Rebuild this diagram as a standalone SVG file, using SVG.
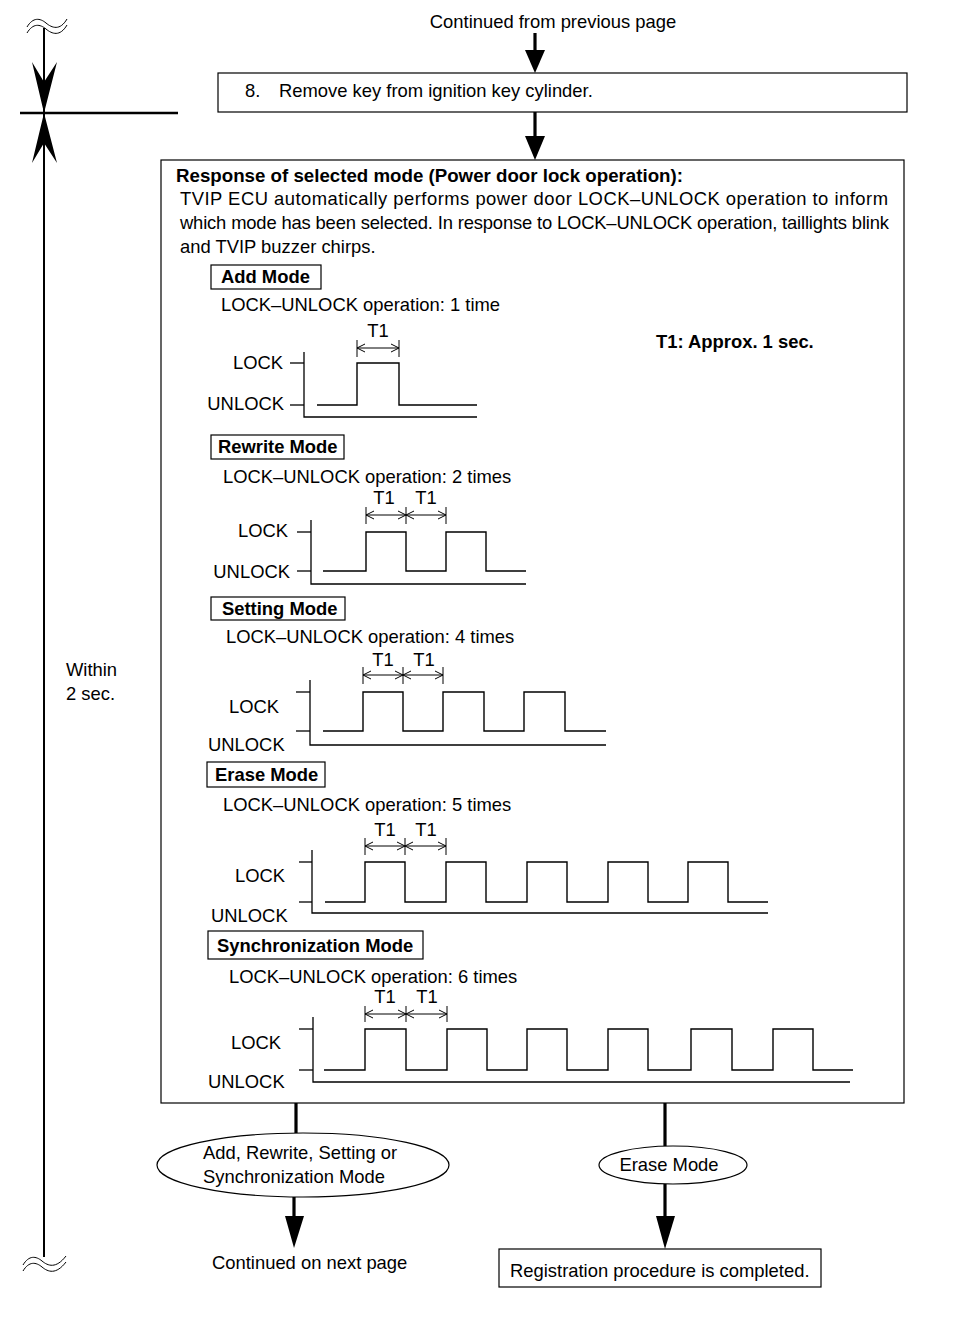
<svg xmlns="http://www.w3.org/2000/svg" width="960" height="1322" viewBox="0 0 960 1322">
<style>
text{font-family:"Liberation Sans",Arial,sans-serif;font-size:18.4px;fill:#000}
.b{font-weight:bold}
.box{fill:#fff;stroke:#000;stroke-width:1.2}
.ln{stroke:#000;stroke-width:1.3;fill:none}
.thin{stroke:#000;stroke-width:1;fill:none}
.thick{stroke:#000;stroke-width:3.2;fill:none}
.sig{stroke:#000;stroke-width:1.4;fill:none}
.dim{stroke:#000;stroke-width:1;fill:none;marker-start:url(#da);marker-end:url(#da)}
.r{text-anchor:end}
.m{text-anchor:middle}
</style>
<defs>
<marker id="da" markerUnits="userSpaceOnUse" markerWidth="12" markerHeight="12" viewBox="-10 -6 12 12" refX="0" refY="0" orient="auto-start-reverse">
<path d="M-8,-4 L0,0 L-8,4" fill="none" stroke="#000" stroke-width="1"/>
</marker>
</defs>
<rect width="960" height="1322" fill="#fff"/>

<g id="timeline">
<path class="thin" d="M27,27 C33,17 40,18 46,23 S60,31 67,19"/>
<path class="thin" d="M27,33 C33,23 40,24 46,29 S60,37 67,25"/>
<line x1="44" y1="28" x2="44" y2="1257" stroke="#000" stroke-width="2"/>
<line x1="20" y1="113" x2="178" y2="113" stroke="#000" stroke-width="2.5"/>
<polygon points="32,62 44,82 57,62 44,113" fill="#000"/>
<polygon points="32,163 44,143 57,163 44,113" fill="#000"/>
<path class="thin" d="M23,1265 C29,1255 36,1256 42,1261 S56,1269 66,1256"/>
<path class="thin" d="M23,1271 C29,1261 36,1262 42,1267 S56,1275 66,1262"/>
<text x="66" y="676">Within</text>
<text x="66" y="700">2 sec.</text>
</g>

<g id="continued-from">
<text x="553" y="28" class="m">Continued from previous page</text>
</g>

<g id="step8">
<rect class="box" x="218" y="73" width="689" height="39"/>
<text x="245" y="97">8.</text>
<text x="279" y="97">Remove key from ignition key cylinder.</text>
</g>

<g id="response">
<rect class="box" x="161" y="160" width="743" height="943"/>
<text x="176" y="182" class="b" textLength="507" lengthAdjust="spacingAndGlyphs">Response of selected mode (Power door lock operation):</text>
<text x="180" y="205" textLength="708" lengthAdjust="spacing">TVIP ECU automatically performs power door LOCK–UNLOCK operation to inform</text>
<text x="180" y="229" textLength="709" lengthAdjust="spacing">which mode has been selected. In response to LOCK–UNLOCK operation, taillights blink</text>
<text x="180" y="253">and TVIP buzzer chirps.</text>
<text x="656" y="348" class="b">T1: Approx. 1 sec.</text>
</g>

<g id="add-mode">
<rect class="box" x="211" y="265" width="110" height="24"/>
<text x="221" y="283" class="b">Add Mode</text>
<text x="221" y="311">LOCK–UNLOCK operation: 1 time</text>
<text x="378" y="337" class="m">T1</text>
<line class="thin" x1="357" y1="340" x2="357" y2="357"/>
<line class="thin" x1="399" y1="340" x2="399" y2="357"/>
<line class="dim" x1="357" y1="348" x2="399" y2="348"/>
<text x="283" y="369" class="r">LOCK</text>
<text x="284" y="410" class="r">UNLOCK</text>
<line class="ln" x1="290" y1="363" x2="304" y2="363"/>
<line class="ln" x1="290" y1="405" x2="304" y2="405"/>
<polyline class="ln" points="304,352 304,417 477,417"/>
<polyline class="sig" points="317,405 357,405 357,363 399,363 399,405 477,405"/>
</g>

<g id="rewrite-mode">
<rect class="box" x="211" y="435" width="133" height="24"/>
<text x="218" y="453" class="b">Rewrite Mode</text>
<text x="223" y="483">LOCK–UNLOCK operation: 2 times</text>
<text x="384" y="504" class="m">T1</text>
<text x="426" y="504" class="m">T1</text>
<line class="thin" x1="366" y1="507" x2="366" y2="524"/>
<line class="thin" x1="406" y1="507" x2="406" y2="524"/>
<line class="thin" x1="446" y1="507" x2="446" y2="524"/>
<line class="dim" x1="366" y1="515" x2="406" y2="515"/>
<line class="dim" x1="406" y1="515" x2="446" y2="515"/>
<text x="288" y="537" class="r">LOCK</text>
<text x="290" y="578" class="r">UNLOCK</text>
<line class="ln" x1="297" y1="532" x2="311" y2="532"/>
<line class="ln" x1="297" y1="571" x2="311" y2="571"/>
<polyline class="ln" points="311,520 311,584 526,584"/>
<polyline class="sig" points="323,571 366,571 366,532 406,532 406,571 446,571 446,532 486,532 486,571 526,571"/>
</g>

<g id="setting-mode">
<rect class="box" x="211" y="597" width="134" height="23"/>
<text x="222" y="615" class="b">Setting Mode</text>
<text x="226" y="643">LOCK–UNLOCK operation: 4 times</text>
<text x="383" y="666" class="m">T1</text>
<text x="424" y="666" class="m">T1</text>
<line class="thin" x1="363" y1="667" x2="363" y2="684"/>
<line class="thin" x1="403" y1="667" x2="403" y2="684"/>
<line class="thin" x1="443" y1="667" x2="443" y2="684"/>
<line class="dim" x1="363" y1="675" x2="403" y2="675"/>
<line class="dim" x1="403" y1="675" x2="443" y2="675"/>
<text x="229" y="713">LOCK</text>
<text x="208" y="751">UNLOCK</text>
<line class="ln" x1="296" y1="692" x2="310" y2="692"/>
<line class="ln" x1="296" y1="731" x2="310" y2="731"/>
<polyline class="ln" points="310,680 310,745 606,745"/>
<polyline class="sig" points="323,731 363,731 363,692 403,692 403,731 443,731 443,692 484,692 484,731 524,731 524,692 565,692 565,731 606,731"/>
</g>

<g id="erase-mode">
<rect class="box" x="207" y="762" width="118" height="25"/>
<text x="215" y="781" class="b">Erase Mode</text>
<text x="223" y="811">LOCK–UNLOCK operation: 5 times</text>
<text x="385" y="836" class="m">T1</text>
<text x="426" y="836" class="m">T1</text>
<line class="thin" x1="365" y1="838" x2="365" y2="855"/>
<line class="thin" x1="405" y1="838" x2="405" y2="855"/>
<line class="thin" x1="446" y1="838" x2="446" y2="855"/>
<line class="dim" x1="365" y1="846" x2="405" y2="846"/>
<line class="dim" x1="405" y1="846" x2="446" y2="846"/>
<text x="235" y="882">LOCK</text>
<text x="211" y="922">UNLOCK</text>
<line class="ln" x1="299" y1="862" x2="312" y2="862"/>
<line class="ln" x1="299" y1="902" x2="312" y2="902"/>
<polyline class="ln" points="312,850 312,913 768,913"/>
<polyline class="sig" points="325,902 365,902 365,862 405,862 405,902 446,902 446,862 486,862 486,902 527,902 527,862 567,862 567,902 608,902 608,862 648,862 648,902 688,902 688,862 728,862 728,902 768,902"/>
</g>

<g id="sync-mode">
<rect class="box" x="208" y="931" width="215" height="28"/>
<text x="217" y="952" class="b">Synchronization Mode</text>
<text x="229" y="983">LOCK–UNLOCK operation: 6 times</text>
<text x="385" y="1003" class="m">T1</text>
<text x="427" y="1003" class="m">T1</text>
<line class="thin" x1="365" y1="1006" x2="365" y2="1022"/>
<line class="thin" x1="406" y1="1006" x2="406" y2="1022"/>
<line class="thin" x1="447" y1="1006" x2="447" y2="1022"/>
<line class="dim" x1="365" y1="1014" x2="406" y2="1014"/>
<line class="dim" x1="406" y1="1014" x2="447" y2="1014"/>
<text x="231" y="1049">LOCK</text>
<text x="208" y="1088">UNLOCK</text>
<line class="ln" x1="299" y1="1029" x2="313" y2="1029"/>
<line class="ln" x1="299" y1="1070" x2="313" y2="1070"/>
<polyline class="ln" points="313,1017 313,1082 850,1082"/>
<polyline class="sig" points="324,1070 365,1070 365,1029 406,1029 406,1070 447,1070 447,1029 487,1029 487,1070 527,1070 527,1029 567,1029 567,1070 608,1070 608,1029 648,1029 648,1070 691,1070 691,1029 732,1029 732,1070 773,1070 773,1029 813,1029 813,1070 853,1070"/>
</g>

<g id="branch-add">
<ellipse cx="303" cy="1165" rx="146" ry="32" class="box"/>
<text x="203" y="1159">Add, Rewrite, Setting or</text>
<text x="203" y="1183">Synchronization Mode</text>
</g>

<g id="continued-next">
<text x="212" y="1269">Continued on next page</text>
</g>

<g id="branch-erase">
<ellipse cx="673" cy="1165" rx="74" ry="19" class="box"/>
<text x="669" y="1171" class="m">Erase Mode</text>
</g>

<g id="completed">
<rect class="box" x="499" y="1249" width="322" height="38"/>
<text x="510" y="1277">Registration procedure is completed.</text>
</g>

<g id="connectors">
<line class="thick" x1="535" y1="33" x2="535" y2="52"/>
<polygon points="525,50 545,50 535,73" fill="#000"/>
<line class="thick" x1="535" y1="112" x2="535" y2="138"/>
<polygon points="525,136 545,136 535,160" fill="#000"/>
<line class="thick" x1="296" y1="1103" x2="296" y2="1133"/>
<line class="thick" x1="294" y1="1197" x2="294" y2="1218"/>
<polygon points="285,1216 304,1216 294,1248" fill="#000"/>
<line class="thick" x1="665" y1="1103" x2="665" y2="1146"/>
<line class="thick" x1="665" y1="1184" x2="665" y2="1218"/>
<polygon points="656,1216 675,1216 665,1249" fill="#000"/>
</g>
</svg>
